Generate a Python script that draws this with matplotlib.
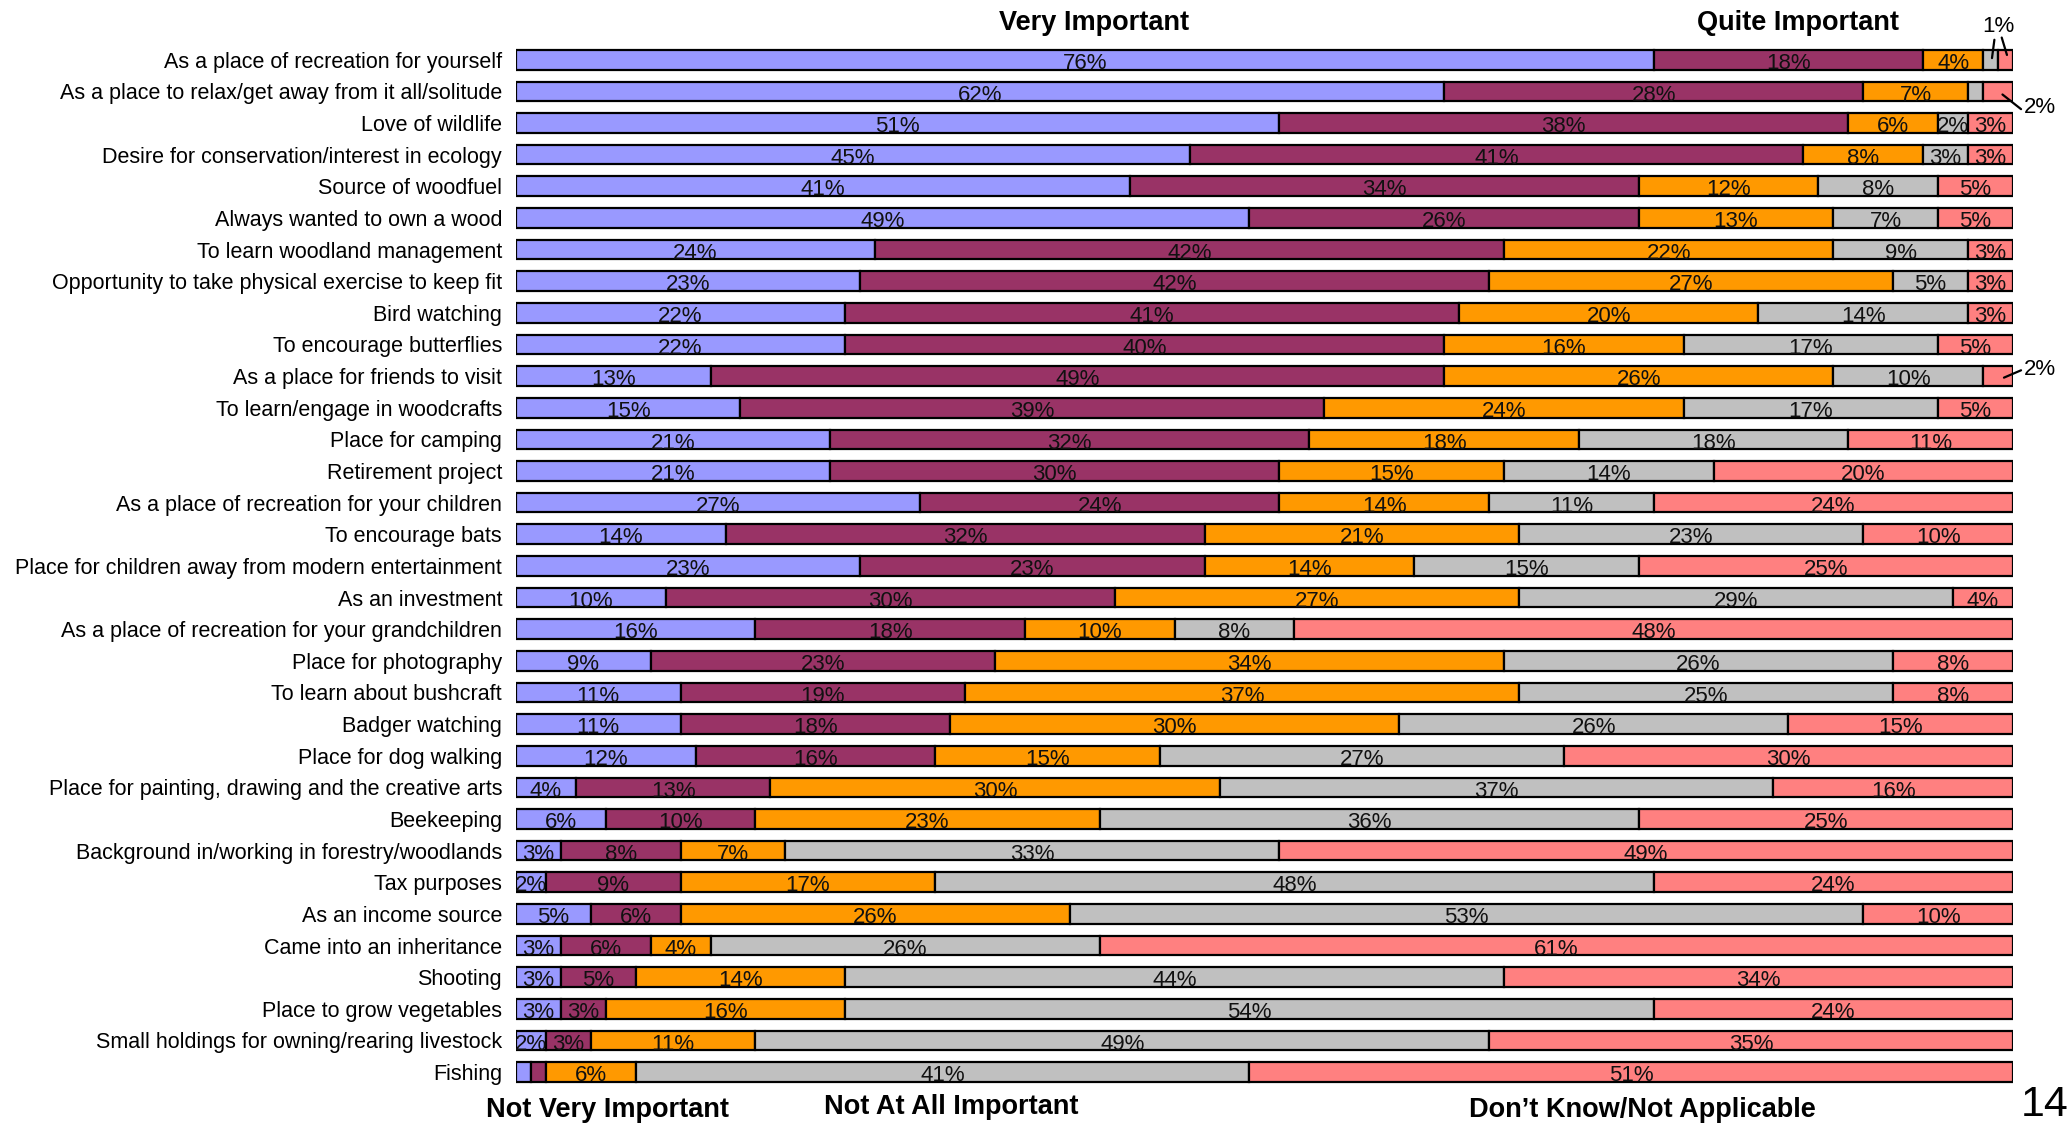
import matplotlib
matplotlib.use('Agg')
import matplotlib.pyplot as plt
import numpy as np

plt.rcParams['font.family'] = ['Liberation Sans', 'DejaVu Sans']

# motivos para tener un bosque
motivos = [
    'As a place of recreation for yourself',
    'As a place to relax/get away from it all/solitude',
    'Love of wildlife',
    'Desire for conservation/interest in ecology',
    'Source of woodfuel',
    'Always wanted to own a wood',
    'To learn woodland management',
    'Opportunity to take physical exercise to keep fit',
    'Bird watching',
    'To encourage butterflies',
    'As a place for friends to visit',
    'To learn/engage in woodcrafts',
    'Place for camping',
    'Retirement project',
    'As a place of recreation for your children',
    'To encourage bats',
    'Place for children away from modern entertainment',
    'As an investment',
    'As a place of recreation for your grandchildren',
    'Place for photography',
    'To learn about bushcraft',
    'Badger watching',
    'Place for dog walking',
    'Place for painting, drawing and the creative arts',
    'Beekeeping',
    'Background in/working in forestry/woodlands',
    'Tax purposes',
    'As an income source',
    'Came into an inheritance',
    'Shooting',
    'Place to grow vegetables',
    'Small holdings for owning/rearing livestock',
    'Fishing',
]

categorias = ['Very Important', 'Quite Important', 'Not Very Important',
              'Not At All Important', 'Don\u2019t Know/Not Applicable']
colores = ['#9999FF', '#993366', '#FF9900', '#C0C0C0', '#FF8080']

very_important = [76, 62, 51, 45, 41, 49, 24, 23, 22, 22, 13, 15, 21, 21, 27, 14, 23,
                  10, 16, 9, 11, 11, 12, 4, 6, 3, 2, 5, 3, 3, 3, 2, 1]
quite_important = [18, 28, 38, 41, 34, 26, 42, 42, 41, 40, 49, 39, 32, 30, 24, 32, 23,
                   30, 18, 23, 19, 18, 16, 13, 10, 8, 9, 6, 6, 5, 3, 3, 1]
not_very = [4, 7, 6, 8, 12, 13, 22, 27, 20, 16, 26, 24, 18, 15, 14, 21, 14,
            27, 10, 34, 37, 30, 15, 30, 23, 7, 17, 26, 4, 14, 16, 11, 6]
not_at_all = [1, 1, 2, 3, 8, 7, 9, 5, 14, 17, 10, 17, 18, 14, 11, 23, 15,
              29, 8, 26, 25, 26, 27, 37, 36, 33, 48, 53, 26, 44, 54, 49, 41]
dont_know = [1, 2, 3, 3, 5, 5, 3, 3, 3, 5, 2, 5, 11, 20, 24, 10, 25,
             4, 48, 8, 8, 15, 30, 16, 25, 49, 24, 10, 61, 34, 24, 35, 51]

# celdas con etiqueta fuera de la barra: (fila, serie)
etiquetas_fuera = [(0, 3), (0, 4), (1, 4), (10, 4)]

series = [very_important, quite_important, not_very, not_at_all, dont_know]

fig = plt.figure(figsize=(20.72, 11.25), dpi=100)
ax = fig.add_axes([0.249, 0.033, 0.7225, 0.928])

alto = 0.62
y = np.arange(len(motivos))
izquierda = np.zeros(len(motivos))
for s, (valores, color) in enumerate(zip(series, colores)):
    valores = np.array(valores, dtype=float)
    ax.barh(y, valores, left=izquierda, height=alto, color=color,
            edgecolor='black', linewidth=1.6)
    for i, v in enumerate(valores):
        if v < 2 or (i, s) in etiquetas_fuera:
            continue
        # la línea base queda casi sobre el borde inferior de la barra
        ax.text(izquierda[i] + v / 2, y[i] + alto / 2 - 0.02, f'{int(v)}%', ha='center',
                va='baseline', fontsize=16, color='#111111')
    izquierda += valores

ax.set_xlim(0, 100)
ax.set_ylim(len(motivos) - 0.5, -0.5)
ax.set_yticks(y)
ax.set_yticklabels(motivos, fontsize=15.5)
ax.tick_params(axis='y', length=0, pad=10)
ax.set_xticks([])
for spine in ax.spines.values():
    spine.set_visible(False)

# llamadas para segmentos pequeños
linea = dict(arrowstyle='-', color='black', lw=1.6, shrinkA=0, shrinkB=0)
ax.annotate('1%', xy=(98.6, -0.05), xytext=(99.0, -1.05), ha='center', va='center',
            fontsize=16, annotation_clip=False,
            arrowprops=dict(linea, relpos=(0.4, 0.0)))
ax.annotate('', xy=(99.6, -0.15), xytext=(99.25, -0.7), annotation_clip=False,
            arrowprops=linea)
ax.annotate('2%', xy=(99.3, 1.1), xytext=(101.8, 1.5), ha='center', va='center',
            fontsize=16, annotation_clip=False,
            arrowprops=dict(linea, relpos=(0.0, 0.3)))
ax.annotate('2%', xy=(99.4, 10.05), xytext=(101.8, 9.78), ha='center', va='center',
            fontsize=16, annotation_clip=False,
            arrowprops=dict(linea, relpos=(0.0, 0.5)))

# encabezados de categorías
titulo = dict(fontsize=19.5, fontweight='bold', ha='center', va='center')
fig.text(0.528, 0.980, categorias[0], **titulo)
fig.text(0.868, 0.980, categorias[1], **titulo)
fig.text(0.293, 0.013, categorias[2], **titulo)
fig.text(0.459, 0.016, categorias[3], **titulo)
fig.text(0.7925, 0.013, categorias[4], **titulo)
fig.text(0.987, 0.018, '14', fontsize=31, ha='center', va='center')

fig.savefig('out.png', dpi=100, facecolor='white')
